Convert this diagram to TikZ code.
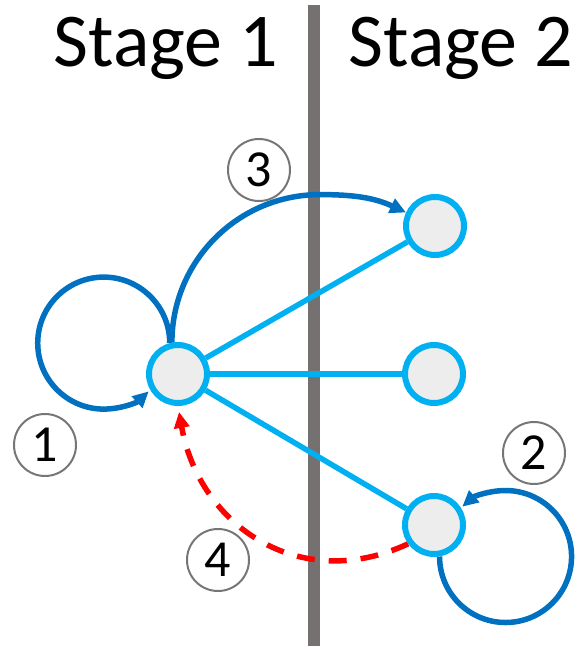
\documentclass[tikz,border=0pt]{standalone}
\usepackage{fontspec}
\setmainfont{Carlito}
\usetikzlibrary{arrows.meta,backgrounds}
\definecolor{linkblue}{RGB}{0,112,192}
\definecolor{edgeblue}{RGB}{0,176,240}
\definecolor{divider}{RGB}{118,113,113}
\definecolor{statefill}{RGB}{237,237,237}
\definecolor{tagring}{RGB}{118,118,118}
\begin{document}
\begin{tikzpicture}[x=1pt,y=1pt,
  state/.style={circle, draw=edgeblue, line width=6pt, fill=statefill,
    minimum size=58pt, inner sep=0pt},
  tag/.style={circle, draw=tagring, line width=2pt, minimum size=62pt,
    inner sep=0pt, font=\fontsize{52}{52}\selectfont},
  heading/.style={anchor=base, font=\fontsize{76}{76}\selectfont},
  edge/.style={draw=edgeblue, line width=5.5pt},
  flow/.style={draw=linkblue, line width=5.5pt,
    -{Triangle[length=16pt,width=15pt]}},
  back/.style={draw=red, line width=5.5pt, dash pattern=on 18pt off 14pt,
    -{Triangle[length=16pt,width=15pt]}, shorten >=6pt},
]
\useasboundingbox (0,0) rectangle (574,646);

% column headings
\node[heading] (s1) at (166,579) {Stage 1};
\node[heading] (s2) at (461,579) {Stage 2};

% states
\node[state] (A)  at (178,272) {};
\node[state] (B1) at (435,420) {};
\node[state] (B2) at (434,272) {};
\node[state] (B3) at (434,121) {};

% numbered tags
\node[tag] (t1) at (45,201)  {1};
\node[tag] (t2) at (534,193) {2};
\node[tag] (t3) at (259,476) {3};
\node[tag] (t4) at (218,86)  {4};

\begin{pgfonlayer}{background}
  % divider between the two stages
  \fill[divider] (308,0) rectangle (320,641);
  % transitions from stage 1 to stage 2
  \draw[edge] (A) -- (B1);
  \draw[edge] (A) -- (B2);
  \draw[edge] (A) -- (B3);
  % (3) jump to the upper state
  \draw[flow] (A.101) arc[start angle=180, end angle=90, radius=148]
    to[out=0, in=155] (B1.155);
  % (1) self-loop in stage 1
  \draw[flow] (A.105) arc[start angle=0, end angle=313, radius=66];
  % (2) self-loop in stage 2
  \draw[flow] (B3.280) arc[start angle=180, end angle=491, radius=66];
  % (4) feedback to stage 1
  \draw[back] (B3.216) to[out=205, in=-80, looseness=1.15] (A.south);
\end{pgfonlayer}
\end{tikzpicture}
\end{document}
